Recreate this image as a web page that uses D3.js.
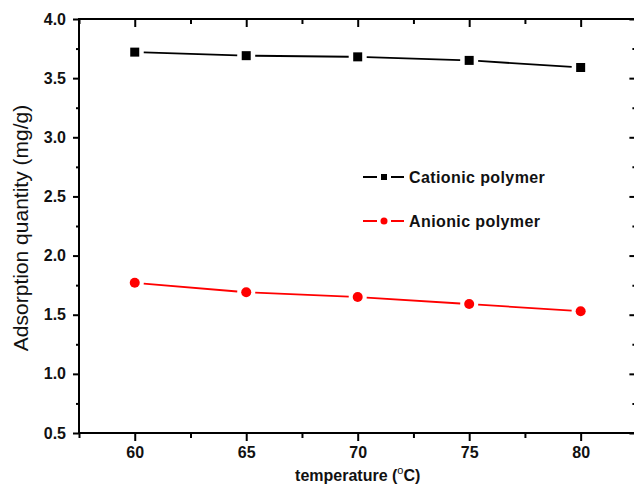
<!DOCTYPE html>
<html>
<head>
<meta charset="utf-8">
<script src="https://cdn.jsdelivr.net/npm/d3@7"></script>
<style>
  html, body { margin: 0; padding: 0; background: #fff; }
  svg { display: block; font-family: "Liberation Sans", Arial, sans-serif; }
</style>
</head>
<body>
<svg id="chart" width="634" height="494"></svg>
<script>
// ---- data ----
const temperatures = [60, 65, 70, 75, 80];
const cationic = [3.72, 3.69, 3.68, 3.65, 3.59];
const anionic = [1.77, 1.69, 1.65, 1.59, 1.53];
const seriesNames = ["Cationic polymer", "Anionic polymer"];
const seriesColors = ["#000000", "#ff0000"];
const xTicks = [60, 65, 70, 75, 80];
const xMinorTicks = [57.5, 62.5, 67.5, 72.5, 77.5, 82.5];
const yTicks = [0.5, 1.0, 1.5, 2.0, 2.5, 3.0, 3.5, 4.0];
const yMinorTicks = [0.75, 1.25, 1.75, 2.25, 2.75, 3.25, 3.75];

// ---- layout ----
const svg = d3.select("#chart");
const mLeft = 79, mRight = 636.4, mTop = 19, mBottom = 433;

const x = d3.scaleLinear().domain([57.5, 82.5]).range([mLeft, mRight]);
const y = d3.scaleLinear().domain([0.5, 4.0]).range([mBottom, mTop]);

const fmt = d3.format(".1f");

const axisStyle = g => {
  g.selectAll(".domain").remove();
  g.selectAll("line").attr("stroke", "#000").attr("stroke-width", 2);
  g.selectAll("text").attr("font-weight", "bold").attr("font-size", 16).attr("fill", "#111")
    .attr("font-family", "'Liberation Sans', Arial, sans-serif");
};

svg.append("g").attr("transform", `translate(0,${mBottom})`)
  .call(d3.axisBottom(x).tickValues(xTicks).tickSize(8).tickPadding(6).tickFormat(d3.format("d")))
  .call(axisStyle);
svg.append("g").attr("transform", `translate(0,${mBottom})`)
  .call(d3.axisBottom(x).tickValues(xMinorTicks).tickSize(5).tickFormat(""))
  .call(axisStyle);

svg.append("g").attr("transform", `translate(0,${mTop})`)
  .call(d3.axisBottom(x).tickValues(xTicks).tickSize(8).tickFormat(""))
  .call(axisStyle);
svg.append("g").attr("transform", `translate(0,${mTop})`)
  .call(d3.axisBottom(x).tickValues(xMinorTicks).tickSize(5).tickFormat(""))
  .call(axisStyle);

svg.append("g").attr("transform", `translate(${mLeft},0)`)
  .call(d3.axisLeft(y).tickValues(yTicks).tickSize(6).tickPadding(7).tickFormat(fmt))
  .call(axisStyle);
svg.append("g").attr("transform", `translate(${mLeft},0)`)
  .call(d3.axisLeft(y).tickValues(yMinorTicks).tickSize(3).tickFormat(""))
  .call(axisStyle);

svg.append("g").attr("transform", `translate(${mRight},0)`)
  .call(d3.axisLeft(y).tickValues(yTicks).tickSize(7).tickFormat(""))
  .call(axisStyle);
svg.append("g").attr("transform", `translate(${mRight},0)`)
  .call(d3.axisLeft(y).tickValues(yMinorTicks).tickSize(4).tickFormat(""))
  .call(axisStyle);

// frame
svg.append("rect")
  .attr("x", mLeft).attr("y", mTop)
  .attr("width", mRight - mLeft).attr("height", mBottom - mTop)
  .attr("fill", "none").attr("stroke", "#000").attr("stroke-width", 2);

// ---- series ----
const gap = 9;
function drawSeries(vals, color, shape) {
  const pts = temperatures.map((t, i) => [x(t), y(vals[i])]);
  const g = svg.append("g");
  for (let i = 0; i < pts.length - 1; i++) {
    const [x1, y1] = pts[i], [x2, y2] = pts[i + 1];
    const dx = x2 - x1, dy = y2 - y1, len = Math.hypot(dx, dy);
    const ux = dx / len, uy = dy / len;
    g.append("line")
      .attr("x1", x1 + ux * gap).attr("y1", y1 + uy * gap)
      .attr("x2", x2 - ux * gap).attr("y2", y2 - uy * gap)
      .attr("stroke", color).attr("stroke-width", 1.8);
  }
  if (shape === "square") {
    g.selectAll("rect").data(pts).join("rect")
      .attr("x", d => d[0] - 4.5).attr("y", d => d[1] - 4.5)
      .attr("width", 9).attr("height", 9).attr("fill", color);
  } else {
    g.selectAll("circle").data(pts).join("circle")
      .attr("cx", d => d[0]).attr("cy", d => d[1]).attr("r", 5).attr("fill", color);
  }
}
drawSeries(cationic, seriesColors[0], "square");
drawSeries(anionic, seriesColors[1], "circle");

// ---- legend ----
const legendY = [177, 221];
const shapes = ["square", "circle"];
seriesNames.forEach((name, i) => {
  const g = svg.append("g");
  const ly = legendY[i];
  g.append("line").attr("x1", 363).attr("x2", 377).attr("y1", ly).attr("y2", ly)
    .attr("stroke", seriesColors[i]).attr("stroke-width", 2);
  g.append("line").attr("x1", 391).attr("x2", 404).attr("y1", ly).attr("y2", ly)
    .attr("stroke", seriesColors[i]).attr("stroke-width", 2);
  if (shapes[i] === "square") {
    g.append("rect").attr("x", 381).attr("y", ly - 3).attr("width", 6).attr("height", 6)
      .attr("fill", seriesColors[i]);
  } else {
    g.append("circle").attr("cx", 384).attr("cy", ly).attr("r", 3.5).attr("fill", seriesColors[i]);
  }
  g.append("text").attr("x", 409).attr("y", ly).attr("dy", "0.36em")
    .attr("font-size", 16).attr("font-weight", "bold").attr("fill", "#111")
    .attr("letter-spacing", 0.4)
    .text(name);
});

// ---- axis titles ----
svg.append("text")
  .attr("transform", `translate(28,${(mTop + mBottom) / 2 + 2}) rotate(-90)`)
  .attr("text-anchor", "middle")
  .attr("font-size", 21).attr("fill", "#111")
  .text("Adsorption quantity (mg/g)");

const xt = svg.append("text")
  .attr("x", (mLeft + mRight) / 2).attr("y", 481)
  .attr("text-anchor", "middle")
  .attr("font-size", 16).attr("font-weight", "bold").attr("fill", "#111");
xt.append("tspan").text("temperature (");
xt.append("tspan").attr("font-size", 11).attr("font-weight", "normal").attr("dy", -7).text("o");
xt.append("tspan").attr("dy", 7).text("C)");
</script>
</body>
</html>
